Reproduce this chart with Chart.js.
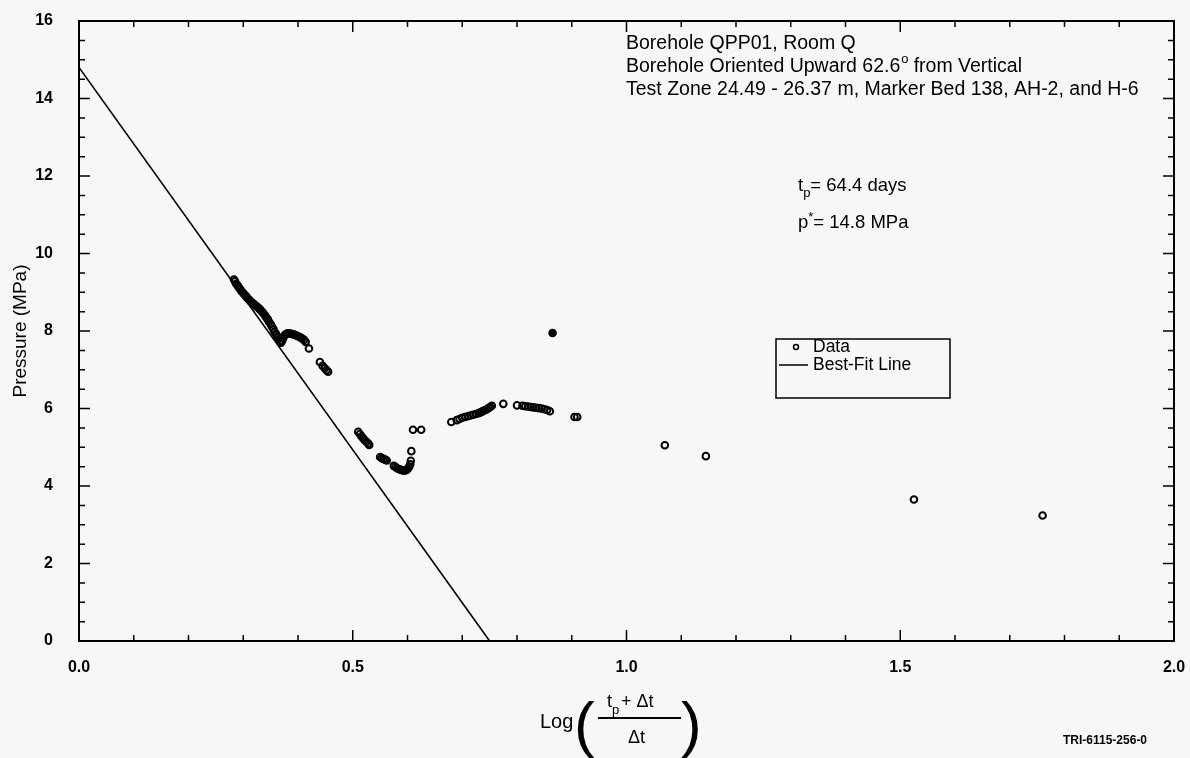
<!DOCTYPE html>
<html><head><meta charset="utf-8">
<script src="https://cdn.jsdelivr.net/npm/chart.js@4.4.1/dist/chart.umd.min.js"></script>
<style>html,body{margin:0;padding:0;background:#f7f7f7;}#wrap{width:1190px;height:758px;position:relative;}</style>
</head><body><div id="wrap"><canvas id="c" width="1190" height="758"></canvas></div>
<script>
// Data
const dataX = [0.283,0.285,0.287,0.29,0.292,0.295,0.297,0.30,0.302,0.305,0.307,0.31,0.312,0.315,0.317,0.32,0.322,0.325,0.327,0.33,0.332,0.335,0.337,0.34,0.342,0.345,0.347,0.35,0.352,0.355,0.357,0.36,0.362,0.365,0.367,0.369,0.371,0.373,0.375,0.378,0.381,0.384,0.387,0.39,0.393,0.396,0.399,0.402,0.405,0.408,0.411,0.414,0.42,
  0.44,0.445,0.449,0.452,0.455,
  0.51,0.513,0.516,0.519,0.522,0.525,0.528,0.53,0.55,0.553,0.556,0.559,0.562,0.575,0.578,0.581,0.584,0.587,0.59,0.593,0.596,0.599,0.601,0.603,0.605,0.606,0.607,0.61,0.625,
  0.68,0.69,0.695,0.70,0.705,0.71,0.715,0.72,0.725,0.73,0.733,0.736,0.739,0.742,0.745,0.748,0.751,0.754,0.775,0.80,0.81,0.815,0.82,0.825,0.83,0.835,0.84,0.845,0.85,0.855,0.86,0.865,0.905,0.91,
  1.07,1.145,1.525,1.76];
const dataY = [9.33,9.28,9.22,9.17,9.12,9.07,9.02,8.98,8.94,8.9,8.86,8.82,8.78,8.75,8.72,8.69,8.66,8.63,8.6,8.57,8.53,8.49,8.45,8.4,8.35,8.3,8.24,8.18,8.12,8.05,7.98,7.92,7.86,7.8,7.74,7.7,7.75,7.82,7.88,7.92,7.94,7.94,7.93,7.92,7.91,7.89,7.87,7.85,7.83,7.8,7.77,7.72,7.55,
  7.2,7.1,7.04,6.99,6.95,
  5.4,5.34,5.28,5.23,5.18,5.14,5.1,5.06,4.75,4.72,4.7,4.68,4.66,4.52,4.49,4.46,4.44,4.42,4.41,4.4,4.4,4.42,4.45,4.5,4.56,4.65,4.9,5.45,5.45,
  5.65,5.7,5.73,5.76,5.78,5.8,5.82,5.84,5.86,5.88,5.9,5.92,5.94,5.96,5.98,6.01,6.04,6.07,6.12,6.08,6.07,6.06,6.05,6.04,6.03,6.02,6.01,6.0,5.98,5.96,5.93,7.95,5.78,5.78,
  5.05,4.77,3.65,3.24];
const fitX = [0.0, 0.75];
const fitY = [14.8, 0.0];
const xTicks = [0.0, 0.5, 1.0, 1.5, 2.0];
const yTicks = [0, 2, 4, 6, 8, 10, 12, 14, 16];

const FONT = '"Liberation Sans", Arial, sans-serif';

const framePlugin = {
  id: 'frame',
  afterDraw(chart) {
    const ctx = chart.ctx, a = chart.chartArea;
    const xs = chart.scales.x, ys = chart.scales.y;
    ctx.save();
    ctx.strokeStyle = '#000'; ctx.lineWidth = 2;
    ctx.strokeRect(a.left, a.top, a.right - a.left, a.bottom - a.top);
    ctx.lineWidth = 1.5;
    for (let i = 0; i <= 20; i++) {
      const px = xs.getPixelForValue(i * 0.1);
      const L = (i % 5 === 0) ? 11 : 6;
      ctx.beginPath(); ctx.moveTo(px, a.bottom); ctx.lineTo(px, a.bottom - L);
      ctx.moveTo(px, a.top); ctx.lineTo(px, a.top + L); ctx.stroke();
    }
    for (let i = 0; i <= 32; i++) {
      const py = ys.getPixelForValue(i * 0.5);
      const L = (i % 4 === 0) ? 11 : 6;
      ctx.beginPath(); ctx.moveTo(a.left, py); ctx.lineTo(a.left + L, py);
      ctx.moveTo(a.right, py); ctx.lineTo(a.right - L, py); ctx.stroke();
    }
    ctx.fillStyle = '#000';
    ctx.beginPath(); ctx.arc(xs.getPixelForValue(0.865), ys.getPixelForValue(7.95), 3.5, 0, Math.PI*2); ctx.fill();
    // annotations
    const F1 = '19.5px ' + FONT;
    ctx.font = F1; ctx.textBaseline = 'middle'; ctx.textAlign = 'left';
    const tx = 626;
    ctx.fillText('Borehole QPP01, Room Q', tx, 44);
    let s1 = 'Borehole Oriented Upward 62.6';
    ctx.fillText(s1, tx, 67);
    let w1 = ctx.measureText(s1).width;
    ctx.font = '13px ' + FONT; ctx.fillText('o', tx + w1 + 1, 59);
    ctx.font = F1;
    ctx.fillText(' from Vertical', tx + w1 + 8, 67);
    ctx.fillText('Test Zone 24.49 - 26.37 m, Marker Bed 138, AH-2, and H-6', tx, 90);
    const tx2 = 798;
    const F2 = '18.5px ' + FONT;
    ctx.font = F2;
    ctx.fillText('t', tx2, 186);
    let wt = ctx.measureText('t').width;
    ctx.font = '13px ' + FONT; ctx.fillText('p', tx2 + wt, 193);
    let wp = ctx.measureText('p').width;
    ctx.font = F2; ctx.fillText('= 64.4 days', tx2 + wt + wp, 186);
    ctx.fillText('p', tx2, 223);
    let wpp = ctx.measureText('p').width;
    ctx.font = '13px ' + FONT; ctx.fillText('*', tx2 + wpp, 217);
    let ws = ctx.measureText('*').width;
    ctx.font = F2; ctx.fillText('= 14.8 MPa', tx2 + wpp + ws, 223);
    // legend
    ctx.font = '17.5px ' + FONT;
    const lx = 776, ly = 339, lw = 174, lh = 59;
    ctx.lineWidth = 1.5; ctx.strokeRect(lx, ly, lw, lh);
    ctx.beginPath(); ctx.arc(lx + 20, ly + 8, 2.5, 0, Math.PI * 2); ctx.stroke();
    ctx.fillText('Data', lx + 37, ly + 8);
    ctx.beginPath(); ctx.moveTo(lx + 3, ly + 26); ctx.lineTo(lx + 32, ly + 26); ctx.stroke();
    ctx.fillText('Best-Fit Line', lx + 37, ly + 26);
    // y title
    ctx.save();
    ctx.translate(21, (a.top + a.bottom) / 2);
    ctx.rotate(-Math.PI / 2); ctx.textAlign = 'center';
    ctx.font = '19px ' + FONT; ctx.fillText('Pressure (MPa)', 0, 0);
    ctx.restore();
    // x title
    ctx.font = '20px ' + FONT; ctx.textAlign = 'left';
    ctx.fillText('Log', 540, 722);
    ctx.save();
    ctx.font = '62px ' + FONT; ctx.textBaseline = 'alphabetic';
    ctx.fillText('(', 574, 745);
    ctx.fillText(')', 681, 745);
    ctx.restore();
    ctx.font = '18px ' + FONT; ctx.textBaseline = 'middle';
    ctx.fillText('t', 607, 702);
    ctx.font = '13px ' + FONT; ctx.fillText('p', 612, 710);
    ctx.font = '18px ' + FONT; ctx.fillText('+ \u0394t', 621, 702);
    ctx.lineWidth = 1.8; ctx.beginPath(); ctx.moveTo(598, 718); ctx.lineTo(681, 718); ctx.stroke();
    ctx.fillText('\u0394t', 628, 738);
    ctx.font = 'bold 12px ' + FONT;
    ctx.fillText('TRI-6115-256-0', 1063, 741);
    ctx.restore();
  }
};

new Chart(document.getElementById('c'), {
  type: 'scatter',
  data: {
    datasets: [
      { label: 'Data', data: dataX.map((x, i) => ({x, y: dataY[i]})), pointStyle: 'circle', pointRadius: 3.3,
        borderColor: '#000', backgroundColor: 'rgba(255,255,255,0)', borderWidth: 2, showLine: false },
      { label: 'Best-Fit Line', data: fitX.map((x, i) => ({x, y: fitY[i]})), showLine: true, pointRadius: 0,
        borderColor: '#000', borderWidth: 1.6 }
    ]
  },
  options: {
    responsive: false, animation: false,
    layout: { padding: { left: 0, right: 16, top: 21, bottom: 0 } },
    plugins: { legend: { display: false }, tooltip: { enabled: false } },
    scales: {
      x: { type: 'linear', min: 0, max: 2, grid: { display: false }, border: { display: false },
        afterBuildTicks: s => { s.ticks = xTicks.map(v => ({value: v})); },
        ticks: { font: { family: FONT, size: 16, weight: 'bold' }, color: '#000', padding: 9,
          callback: v => v.toFixed(1), maxRotation: 0 },
        afterFit: s => { s.height = 117; s.paddingLeft = 0; s.paddingRight = 0; } },
      y: { type: 'linear', min: 0, max: 16, grid: { display: false }, border: { display: false },
        afterBuildTicks: s => { s.ticks = yTicks.map(v => ({value: v})); },
        ticks: { font: { family: FONT, size: 16, weight: 'bold' }, color: '#000', padding: 18 },
        afterFit: s => { s.width = 79; s.paddingTop = 0; s.paddingBottom = 0; } }
    }
  },
  plugins: [framePlugin]
});
</script></body></html>
